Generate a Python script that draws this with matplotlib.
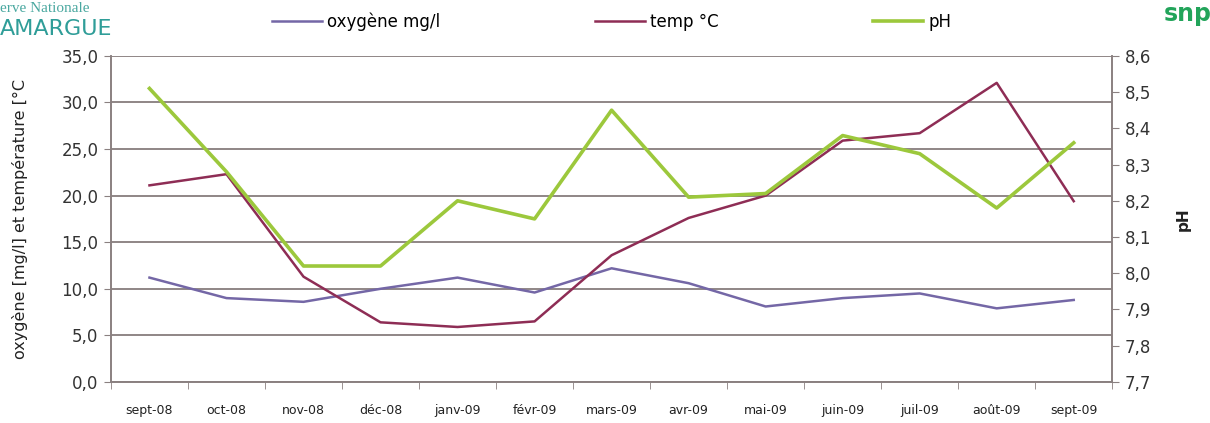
import numpy as np
import matplotlib
matplotlib.use('Agg')
import matplotlib.pyplot as plt
import matplotlib.ticker as mtick

MONTHS = ['sept-08', 'oct-08', 'nov-08', 'déc-08', 'janv-09', 'févr-09', 'mars-09',
          'avr-09', 'mai-09', 'juin-09', 'juil-09', 'août-09', 'sept-09']
OXYGEN = [11.2, 9.0, 8.6, 10.0, 11.2, 9.6, 12.2, 10.6, 8.1, 9.0, 9.5, 7.9, 8.8]  # mg/l
TEMP = [21.1, 22.3, 11.3, 6.4, 5.9, 6.5, 13.6, 17.6, 20.0, 25.9, 26.7, 32.1, 19.4]  # °C
PH = [8.51, 8.28, 8.02, 8.02, 8.20, 8.15, 8.45, 8.21, 8.22, 8.38, 8.33, 8.18, 8.36]

C_OXY = '#7467a6'
C_TEMP = '#8e2d55'
C_PH = '#9cc83c'
C_GRID = '#7d7272'
C_AXIS = '#8a8080'


def comma(fmt):
    return mtick.FuncFormatter(lambda v, pos: (fmt % v).replace('.', ','))


fig = plt.figure(figsize=(12.1, 4.23), dpi=100)
ax = fig.add_axes([0.0917, 0.097, 0.8275, 0.771])
ax2 = ax.twinx()

x = np.arange(len(MONTHS))
l1, = ax.plot(x, OXYGEN, color=C_OXY, lw=1.8, label='oxygène mg/l')
l2, = ax.plot(x, TEMP, color=C_TEMP, lw=1.8, label='temp °C')
l3, = ax2.plot(x, PH, color=C_PH, lw=2.6, label='pH')

ax.set_xlim(-0.5, len(MONTHS) - 0.5)
ax.set_ylim(0, 35)
ax2.set_ylim(7.7, 8.6)
ax.set_yticks(np.arange(0, 35.1, 5))
ax2.set_yticks(np.arange(7.7, 8.61, 0.1))
ax.yaxis.set_major_formatter(comma('%.1f'))
ax2.yaxis.set_major_formatter(comma('%.1f'))

# month labels centred, tick marks on the category boundaries
ax.set_xticks(x)
ax.set_xticklabels(MONTHS, fontsize=9, color='#222222')
ax.set_xticks(np.arange(-0.5, len(MONTHS)), minor=True)
ax.tick_params(axis='x', which='major', length=0, pad=16)
ax.tick_params(axis='x', which='minor', length=5, color=C_AXIS, direction='out')
ax.tick_params(axis='y', length=5, color=C_AXIS, labelsize=12, labelcolor='#333333', pad=4)
ax2.tick_params(axis='y', length=5, color=C_AXIS, labelsize=12, labelcolor='#333333', pad=4)

ax.yaxis.grid(True, color=C_GRID, lw=1.2)
ax.set_axisbelow(True)
for a in (ax, ax2):
    a.spines['top'].set_visible(False)
    for s in ('left', 'right', 'bottom'):
        a.spines[s].set_color(C_AXIS)
        a.spines[s].set_linewidth(1.2)

ax.set_ylabel('oxygène [mg/l] et température [°C', fontsize=11.5, color='#222222', labelpad=24)
ax2.set_ylabel('pH', fontsize=11, fontweight='bold', color='#222222', labelpad=18)

fig.legend(handles=[l1, l2, l3], loc='upper left', bbox_to_anchor=(0.212, 1.006), ncol=3,
           frameon=False, fontsize=12, handlelength=3.0, columnspacing=9.3,
           handletextpad=0.3)

# logos in the top corners
fig.text(0.0, 0.995, 'erve Nationale', fontsize=11, family='Liberation Serif',
         color='#4aa8a0', va='top', ha='left')
fig.text(0.0, 0.955, 'AMARGUE', fontsize=16, color='#2f9d98', va='top', ha='left')
fig.text(0.962, 0.995, 'snp', fontsize=17, fontweight='bold', color='#22a45a', va='top', ha='left')

fig.savefig('out.png', dpi=100)
